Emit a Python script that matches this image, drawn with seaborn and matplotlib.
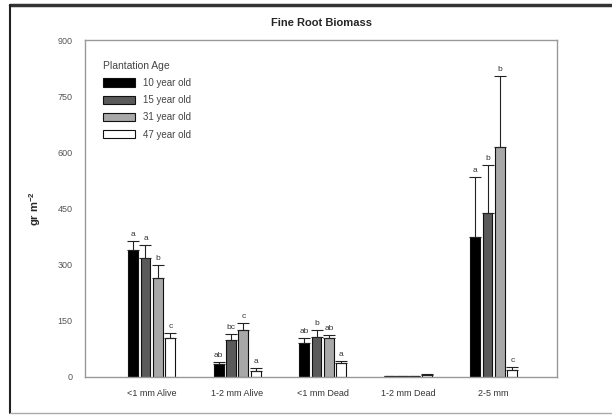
import matplotlib
matplotlib.use("Agg")
import matplotlib.pyplot as plt
import seaborn as sns
import pandas as pd
from matplotlib.lines import Line2D

categories = ["<1 mm Alive", "1-2 mm Alive", "<1 mm Dead", "1-2 mm Dead", "2-5 mm"]
ages = ["10 year old", "15 year old", "31 year old", "47 year old"]
vals_10 = [340, 35, 91, 3, 375]
vals_15 = [318, 99, 108, 2, 439]
vals_31 = [265, 126, 104, 3, 613]
vals_47 = [104, 16, 38, 6, 19]
err_10 = [23, 5, 13, 1, 158]
err_15 = [34, 16, 18, 1, 126]
err_31 = [33, 19, 9, 1, 191]
err_47 = [14, 8, 4, 2, 8]
let_10 = ["a", "ab", "ab", "", "a"]
let_15 = ["a", "bc", "b", "", "b"]
let_31 = ["b", "c", "ab", "", "b"]
let_47 = ["c", "a", "a", "", "c"]
yticks = [0, 150, 300, 450, 600, 750, 900]

vals = [vals_10, vals_15, vals_31, vals_47]
errs = [err_10, err_15, err_31, err_47]
lets = [let_10, let_15, let_31, let_47]

rows = []
for a, v in zip(ages, vals):
    for c, x in zip(categories, v):
        rows.append({"size": c, "age": a, "val": x})
df = pd.DataFrame(rows)

sns.set_style("white")
plt.rcParams["font.family"] = ["Liberation Sans", "DejaVu Sans"]
plt.rcParams["mathtext.fontset"] = "custom"
plt.rcParams["mathtext.rm"] = "Liberation Sans"
plt.rcParams["mathtext.bf"] = "Liberation Sans:bold"

fig = plt.figure(figsize=(6.12, 4.18), dpi=100)
ax = fig.add_axes([85/612, 41/418, 472/612, 337/418])

palette = ["#000000", "#5a5a5a", "#a8a8a8", "#ffffff"]
sns.barplot(data=df, x="size", y="val", hue="age", order=categories,
            hue_order=ages, palette=palette, width=0.58, gap=0.2,
            edgecolor="#111111", linewidth=0.8, errorbar=None, ax=ax)

for cont, e, l in zip(ax.containers, errs, lets):
    xs = [b.get_x() + b.get_width()/2 for b in cont]
    hs = [b.get_height() for b in cont]
    ax.errorbar(xs, hs, yerr=[[0]*len(e), e], fmt="none", ecolor="#222222",
                elinewidth=0.8, capsize=4, capthick=0.8)
    for x, h, ee, t in zip(xs, hs, e, l):
        if t:
            ax.text(x, h + ee + 8, t, ha="center", va="bottom", fontsize=6,
                    color="#333333")

ax.set_xlim(-0.78, 4.74)
ax.set_ylim(0, 900)
ax.set_yticks(yticks)
ax.set_yticklabels([str(t) for t in yticks])
ax.set_xlabel("")
ax.set_ylabel("gr m$^{\\mathbf{-2}}$", fontsize=8, fontweight="bold", labelpad=10)
ax.set_title("Fine Root Biomass", fontsize=8, fontweight="bold", pad=10)
for s in ax.spines.values():
    s.set_color("#999999")
    s.set_linewidth(1.0)
ax.tick_params(axis="both", direction="out", length=3, width=0.8,
               color="#999999", labelsize=6.5, labelcolor="#555555")
ax.tick_params(axis="x", labelcolor="#333333", pad=6)
ax.tick_params(axis="y", pad=6)

leg = ax.legend(title="Plantation Age", loc="upper left",
                bbox_to_anchor=(0.02, 0.965), frameon=False, fontsize=7,
                title_fontsize=7.5, handlelength=3.3, handleheight=0.9,
                labelspacing=0.75, handletextpad=0.8, alignment="left")
for t in leg.get_texts():
    t.set_color("#444444")
leg.get_title().set_color("#444444")

# outer frame
fig.add_artist(Line2D([10/612, 611/612], [1-5/418, 1-5/418], color="#333333", lw=2.5))
fig.add_artist(Line2D([10/612, 10/612], [1-5/418, 1-413/418], color="#222222", lw=1.5))
fig.add_artist(Line2D([10/612, 611/612], [1-413/418, 1-413/418], color="#aaaaaa", lw=1))

fig.savefig("out.png", dpi=100)
